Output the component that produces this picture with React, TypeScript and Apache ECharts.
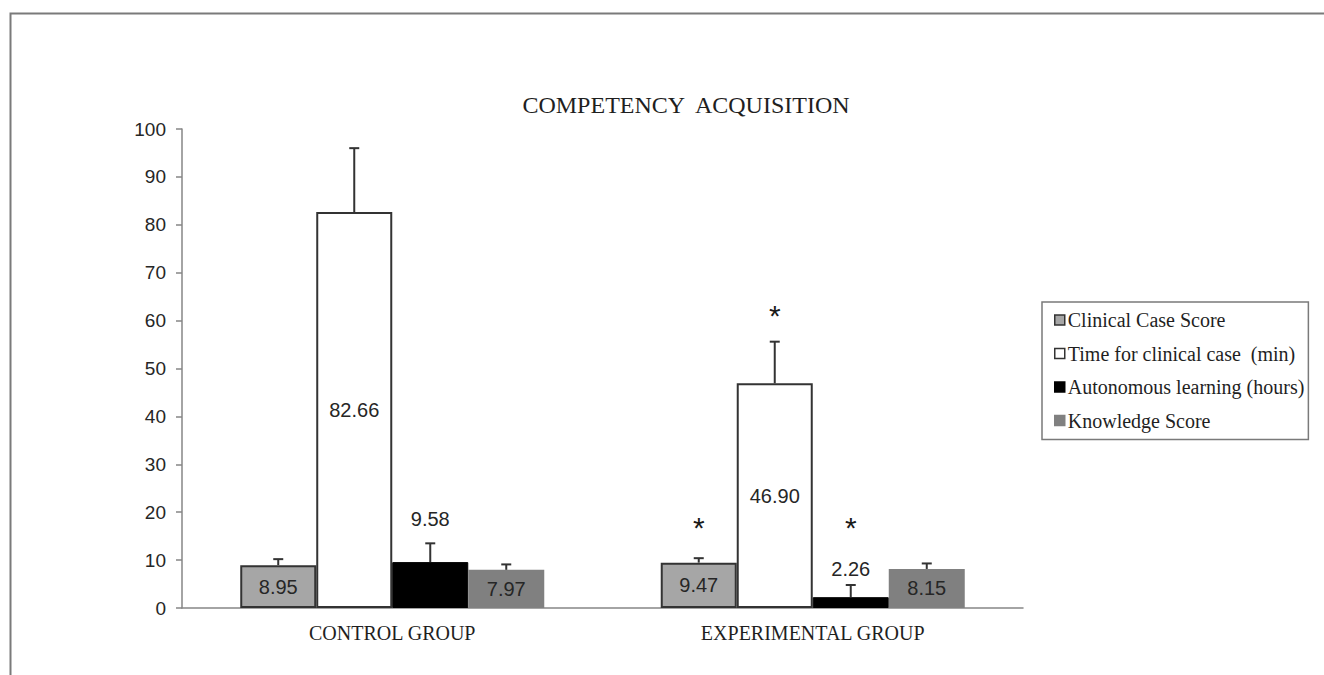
import React, { useEffect, useRef } from "react";
import * as echarts from "echarts";

const categories = ["CONTROL GROUP", "EXPERIMENTAL GROUP"];
const seriesNames = [
  "Clinical Case Score",
  "Time for clinical case  (min)",
  "Autonomous learning (hours)",
  "Knowledge Score",
];
const clinicalScore = [8.95, 9.47];
const timeClinical = [82.66, 46.9];
const autonomous = [9.58, 2.26];
const knowledge = [7.97, 8.15];
const clinicalErr = [10.2, 10.4];
const timeErr = [96.0, 55.6];
const autonomousErr = [13.5, 4.8];
const knowledgeErr = [9.1, 9.3];
// significance markers: [category index, series index, height]
const stars: [number, number, number][] = [
  [1, 0, 16.9],
  [1, 1, 61.0],
  [1, 2, 16.9],
];
const yTicks = [0, 10, 20, 30, 40, 50, 60, 70, 80, 90, 100];

const SERIF = "'Liberation Serif', 'Times New Roman', serif";
const SANS = "'Liberation Sans', Arial, sans-serif";
const GAP = 0.277;

export default function App() {
  const ref = useRef<HTMLDivElement>(null);
  useEffect(() => {
    if (!ref.current) return;
    const chart = echarts.init(ref.current, null, { renderer: "svg" });
    const values = [clinicalScore, timeClinical, autonomous, knowledge];
    const errs = [clinicalErr, timeErr, autonomousErr, knowledgeErr];
    const styles = [
      { color: "#a6a6a6", borderColor: "#333333", borderWidth: 2 },
      { color: "#ffffff", borderColor: "#333333", borderWidth: 2 },
      { color: "#000000", borderColor: "#000000", borderWidth: 1 },
      { color: "#808080", borderColor: "#808080", borderWidth: 0 },
    ];
    const labelTop: Record<string, number> = { "2-0": 33, "2-1": 18 };
    const barSeries = values.map((arr, s) => ({
      type: "bar",
      name: seriesNames[s],
      barGap: "0%",
      barCategoryGap: GAP * 100 + "%",
      itemStyle: styles[s],
      data: arr.map((v, c) => {
        const key = s + "-" + c;
        const top = labelTop[key];
        return {
          value: v,
          label: {
            show: true,
            position: top !== undefined ? "top" : "inside",
            distance: top !== undefined ? top : 5,
            formatter: (p: any) => Number(p.value).toFixed(2),
            color: "#262626",
            fontFamily: SANS,
            fontSize: 20,
          },
        };
      }),
      z: 2,
    }));
    const errData: number[][] = [];
    errs.forEach((arr, s) =>
      arr.forEach((e, c) => errData.push([c, s, values[s][c], e]))
    );
    const errSeries = {
      type: "custom",
      name: "err",
      z: 3,
      silent: true,
      encode: { x: 0, y: 3 },
      data: errData,
      renderItem: (params: any, api: any) => {
        const c = api.value(0);
        const s = api.value(1);
        const catW = api.size([1, 0])[0];
        const barW = (catW * (1 - GAP)) / 4;
        const base = api.coord([c, api.value(2)]);
        const topP = api.coord([c, api.value(3)]);
        const x = base[0] + (s - 1.5) * barW;
        const st = { stroke: "#333333", lineWidth: 2 };
        return {
          type: "group",
          children: [
            { type: "line", shape: { x1: x, y1: base[1], x2: x, y2: topP[1] }, style: st },
            { type: "line", shape: { x1: x - 5, y1: topP[1], x2: x + 5, y2: topP[1] }, style: st },
          ],
        };
      },
    };
    const starSeries = {
      type: "custom",
      name: "stars",
      z: 4,
      silent: true,
      encode: { x: 0, y: 2 },
      data: stars,
      renderItem: (params: any, api: any) => {
        const c = api.value(0);
        const s = api.value(1);
        const catW = api.size([1, 0])[0];
        const barW = (catW * (1 - GAP)) / 4;
        const p = api.coord([c, api.value(2)]);
        return {
          type: "text",
          x: p[0] + (s - 1.5) * barW,
          y: p[1],
          style: {
            text: "*",
            fill: "#1a1a1a",
            font: "30px " + SANS,
            align: "center",
            verticalAlign: "middle",
          },
        };
      },
    };
    chart.setOption({
      animation: false,
      backgroundColor: "#ffffff",
      graphic: [
        {
          type: "polyline",
          shape: { points: [[10.5, 675], [10.5, 13.5], [1324, 13.5]] },
          style: { stroke: "#7a7a7a", lineWidth: 2, fill: "none" },
          silent: true,
        },
        {
          type: "text",
          x: 686,
          y: 105,
          style: {
            text: "COMPETENCY  ACQUISITION",
            fill: "#1f1f1f",
            font: "24px " + SERIF,
            align: "center",
            verticalAlign: "middle",
          },
        },
      ],
      legend: {
        data: seriesNames.map((n) => ({ name: n })),
        orient: "vertical",
        left: 1042,
        top: 302,
        padding: [8, 4, 9, 12],
        itemWidth: 10,
        itemHeight: 10,
        itemGap: 13.5,
        icon: "rect",
        borderColor: "#7a7a7a",
        borderWidth: 1.5,
        itemStyle: { borderWidth: 1.5 },
        textStyle: {
          fontFamily: SERIF,
          fontSize: 20,
          lineHeight: 20,
          color: "#1f1f1f",
          padding: [0, 0, 0, -2],
        },
        selectedMode: false,
      },
      grid: { left: 182, right: 1324 - 1023, top: 129, bottom: 675 - 608 },
      xAxis: {
        type: "category",
        data: categories,
        axisLine: { lineStyle: { color: "#868686", width: 1.5 } },
        axisTick: { length: 6, lineStyle: { color: "#868686", width: 1.5 } },
        axisLabel: { fontFamily: SERIF, fontSize: 20, color: "#1f1f1f", margin: 15 },
      },
      yAxis: {
        type: "value",
        min: 0,
        max: 100,
        interval: 10,
        splitLine: { show: false },
        axisLine: { show: true, lineStyle: { color: "#868686", width: 1.5 } },
        axisTick: { show: true, length: 6, lineStyle: { color: "#868686", width: 1.5 } },
        axisLabel: {
          fontFamily: SANS,
          fontSize: 19,
          color: "#262626",
          margin: 16,
          formatter: (v: number) => (yTicks.includes(v) ? String(v) : ""),
        },
      },
      series: [...barSeries, errSeries, starSeries],
    });
    return () => chart.dispose();
  }, []);
  return (
    <div
      ref={ref}
      style={{ position: "absolute", left: 0, top: 0, width: 1324, height: 675 }}
    />
  );
}
